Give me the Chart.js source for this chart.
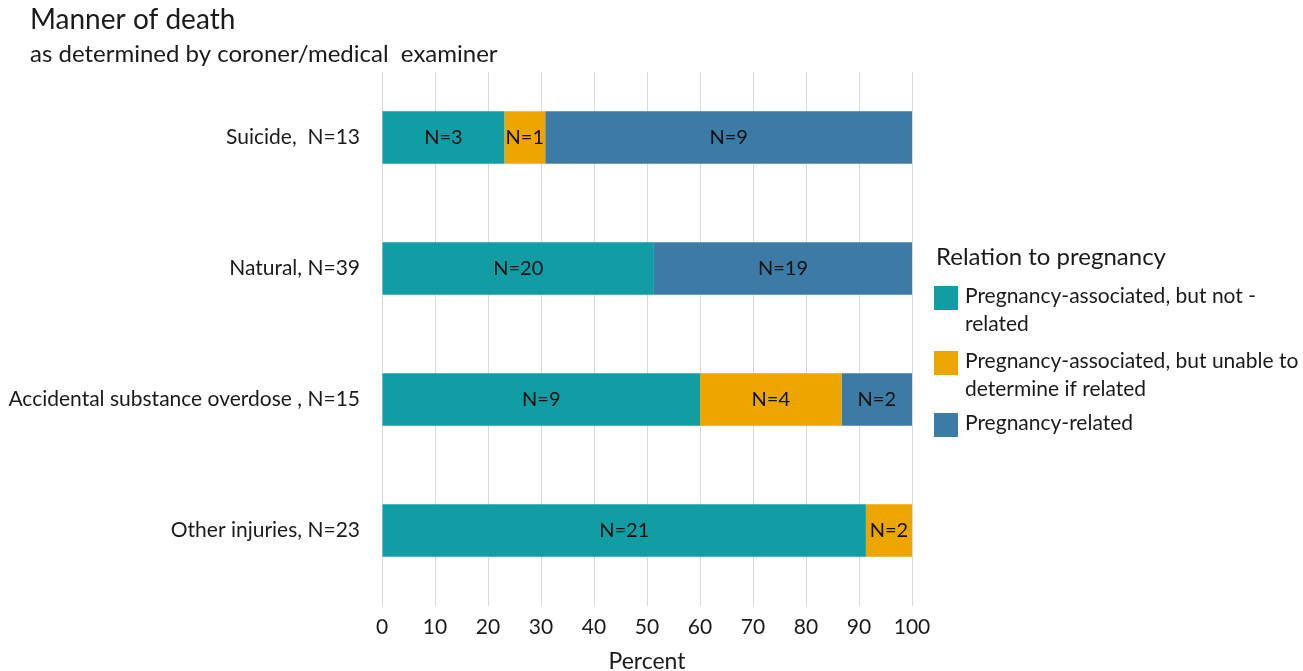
<!DOCTYPE html>
<html>
<head>
<meta charset="utf-8">
<script src="https://cdn.jsdelivr.net/npm/chart.js@4.4.1/dist/chart.umd.min.js"></script>
<style>
  html, body { margin: 0; padding: 0; background: #fff; }
  #wrap { width: 1303px; height: 671px; }
</style>
</head>
<body>
<div id="wrap"><canvas id="manner_chart"></canvas></div>
<script>
Chart.defaults.font.family = 'Lato';
Chart.defaults.color = '#1a1a1a';

// categories (top to bottom)
const categories = [
  'Suicide,  N=13',
  'Natural, N=39',
  'Accidental substance overdose , N=15',
  'Other injuries, N=23',
];
// legend text, split the way the reference wraps it
const seriesLines = [
  ['Pregnancy-associated, but not -', 'related'],
  ['Pregnancy-associated, but unable to', 'determine if related'],
  ['Pregnancy-related'],
];
const seriesColors = ['#129DA4', '#EDA600', '#3B7BA6'];

// percent of each category
const pctNotRelated = [23.1, 51.3, 60.0, 91.3];
const pctUnable = [7.7, null, 26.7, 8.7];
const pctRelated = [69.2, 48.7, 13.3, null];

// counts printed inside the segments
const nNotRelated = [3, 20, 9, 21];
const nUnable = [1, null, 4, 2];
const nRelated = [9, 19, 2, null];

const xTicks = [0, 10, 20, 30, 40, 50, 60, 70, 80, 90, 100];

const seriesPct = [pctNotRelated, pctUnable, pctRelated];
const seriesN = [nNotRelated, nUnable, nRelated];

const data_manner = {
  labels: categories,
  datasets: seriesLines.map((lines, i) => ({
    label: lines.join(' '),
    data: seriesPct[i],
    counts: seriesN[i],
    backgroundColor: seriesColors[i],
    borderWidth: 0,
    categoryPercentage: 1,
    barPercentage: 0.4,
  })),
};

// N=.. labels centred in each segment
const segmentLabels = {
  id: 'segmentLabels',
  afterDatasetsDraw(chart) {
    const ctx = chart.ctx;
    ctx.save();
    ctx.font = '20px Lato';
    ctx.fillStyle = '#111';
    ctx.textAlign = 'center';
    ctx.textBaseline = 'middle';
    chart.data.datasets.forEach((ds, di) => {
      const meta = chart.getDatasetMeta(di);
      meta.data.forEach((bar, i) => {
        const n = ds.counts[i];
        if (n == null || ds.data[i] == null) return;
        ctx.fillText('N=' + n, (bar.x + bar.base) / 2, bar.y);
      });
    });
    ctx.restore();
  },
};

// title, subtitle and the right-hand legend
const headerAndLegend = {
  id: 'headerAndLegend',
  afterDraw(chart) {
    const ctx = chart.ctx;
    const area = chart.chartArea;
    ctx.save();
    ctx.fillStyle = '#1a1a1a';
    ctx.textAlign = 'left';
    ctx.textBaseline = 'middle';
    ctx.font = '28px Lato';
    ctx.fillText('Manner of death', 30, 20);
    ctx.font = '24px Lato';
    ctx.fillText('as determined by coroner/medical  examiner', 30, 54);

    const lx = area.right + 24;
    ctx.font = '24px Lato';
    ctx.fillText('Relation to pregnancy', lx, 257);

    const itemTops = [286, 351, 413];
    ctx.font = '21px Lato';
    chart.data.datasets.forEach((ds, i) => {
      const top = itemTops[i];
      ctx.fillStyle = ds.backgroundColor;
      ctx.fillRect(lx - 2, top, 24, 24);
      ctx.fillStyle = '#1a1a1a';
      seriesLines[i].forEach((line, k) => {
        ctx.fillText(line, lx + 29, top + 10 + k * 28);
      });
    });
    ctx.restore();
  },
};

const options_manner = {
  indexAxis: 'y',
  responsive: true,
  maintainAspectRatio: false,
  animation: false,
  layout: { padding: { top: 72, right: 391, left: 0, bottom: 0 } },
  scales: {
    x: {
      stacked: true,
      min: 0,
      max: 100,
      afterBuildTicks: (scale) => { scale.ticks = xTicks.map(v => ({ value: v })); },
      ticks: { font: { size: 21 }, padding: 9, maxRotation: 0 },
      grid: { color: '#d9d9d9', tickLength: 10, drawTicks: true },
      border: { display: false },
      title: {
        display: true,
        text: 'Percent',
        font: { size: 23, lineHeight: 0.85 },
        padding: { top: 0, bottom: 0 },
      },
      afterFit: (scale) => { scale.height = 75; },
    },
    y: {
      stacked: true,
      grid: { display: false, drawTicks: false },
      border: { display: false },
      ticks: { font: { size: 21 }, padding: 22 },
      afterFit: (scale) => { scale.width = 382; },
    },
  },
  plugins: {
    legend: { display: false },
    title: { display: false },
    tooltip: { enabled: false },
  },
};

const ctx_manner = document.getElementById('manner_chart');
const chart_manner = new Chart(ctx_manner, {
  type: 'bar',
  data: data_manner,
  options: options_manner,
  plugins: [segmentLabels, headerAndLegend],
});
</script>
</body>
</html>
